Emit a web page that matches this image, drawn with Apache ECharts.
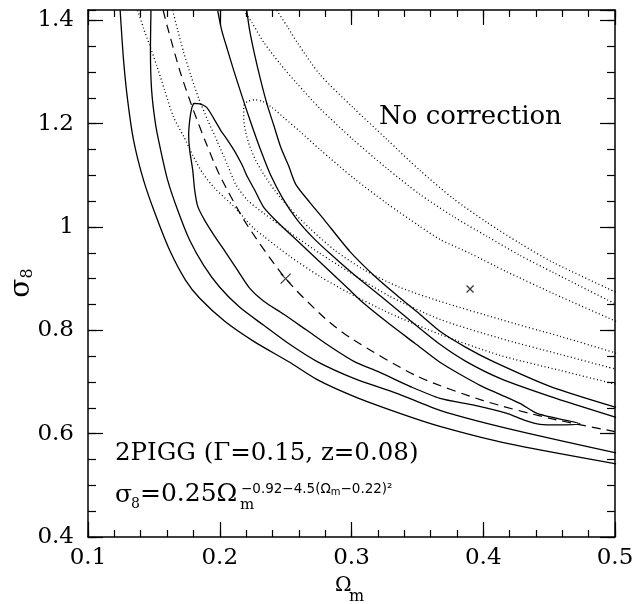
<!DOCTYPE html>
<html>
<head>
<meta charset="utf-8">
<script src="https://cdn.jsdelivr.net/npm/echarts@6/dist/echarts.min.js"></script>
<style>html,body{margin:0;padding:0;background:#fff}#c{width:638px;height:604px}</style>
</head>
<body>
<div id="c"></div>
<script>
// ---- data (Omega_m, sigma_8) ----
var xTicks = [0.1, 0.2, 0.3, 0.4, 0.5];
var yTicks = [0.4, 0.6, 0.8, 1, 1.2, 1.4];

// solid: corrected contours
var solidOuterLow = [[0.1244,1.4194],[0.1270,1.3226],[0.1301,1.2452],[0.1346,1.1678],[0.1422,1.0903],[0.1514,1.0226],[0.1620,0.9549],[0.1741,0.8968],[0.1848,0.8620],[0.2038,0.8175],[0.2258,0.7787],[0.2531,0.7381],[0.2736,0.7052],[0.3018,0.6723],[0.3367,0.6394],[0.3671,0.6142],[0.4180,0.5813],[0.5008,0.5417]];
var solidMidLow = [[0.1478,1.4194],[0.1474,1.3419],[0.1483,1.2645],[0.1514,1.1968],[0.1552,1.1484],[0.1605,1.0903],[0.1681,1.0323],[0.1772,0.9742],[0.1878,0.9258],[0.2000,0.8833],[0.2152,0.8445],[0.2334,0.8097],[0.2531,0.7729],[0.2736,0.7400],[0.3018,0.7071],[0.3344,0.6781],[0.3671,0.6452],[0.4180,0.6104],[0.5008,0.5629]];
var solidMidHigh = [[0.1984,1.4194],[0.2015,1.3807],[0.2060,1.3419],[0.2106,1.3032],[0.2167,1.2548],[0.2235,1.2026],[0.2311,1.1484],[0.2387,1.1000],[0.2478,1.0555],[0.2585,1.0149],[0.2706,0.9800],[0.2843,0.9471],[0.3025,0.9065],[0.3223,0.8658],[0.3443,0.8194],[0.3671,0.7729],[0.3868,0.7400],[0.4127,0.7071],[0.4506,0.6723],[0.5008,0.6317]];
var solidOuterHigh = [[0.2205,1.4194],[0.2227,1.3807],[0.2266,1.3323],[0.2311,1.2839],[0.2357,1.2394],[0.2410,1.1968],[0.2463,1.1542],[0.2524,1.1174],[0.2577,1.0826],[0.2683,1.0478],[0.2790,1.0149],[0.2987,0.9529],[0.3177,0.9046],[0.3344,0.8678],[0.3519,0.8310],[0.3671,0.7981],[0.3868,0.7671],[0.4073,0.7400],[0.4506,0.6917],[0.5008,0.6510]];
var solidInner = [[0.1802,1.2394],[0.1848,1.2384],[0.1901,1.2316],[0.1954,1.2103],[0.2007,1.1871],[0.2060,1.1678],[0.2114,1.1465],[0.2167,1.1213],[0.2212,1.0962],[0.2266,1.0710],[0.2334,1.0381],[0.2455,1.0052],[0.2585,0.9742],[0.2714,0.9433],[0.2843,0.9123],[0.2972,0.8813],[0.3093,0.8523],[0.3291,0.8116],[0.3481,0.7749],[0.3671,0.7381],[0.3823,0.7149],[0.3975,0.6936],[0.4127,0.6762],[0.4278,0.6587],[0.4408,0.6394],[0.4560,0.6297],[0.4734,0.6191],
  [0.4582,0.6171],[0.4430,0.6181],[0.4316,0.6258],[0.4180,0.6394],[0.3937,0.6549],[0.3671,0.6684],[0.3443,0.6917],[0.3215,0.7187],[0.3018,0.7400],[0.2835,0.7691],[0.2661,0.8000],[0.2486,0.8310],[0.2334,0.8562],[0.2228,0.8813],[0.2136,0.9162],[0.2045,0.9510],[0.1962,0.9820],[0.1886,1.0129],[0.1833,1.0400],[0.1810,1.0710],[0.1795,1.1097],[0.1772,1.1484],[0.1764,1.1774],[0.1772,1.2065],[0.1787,1.2297],[0.1802,1.2394]];

// dashed: fitted relation
var fitLine = [[0.157,1.42],[0.16,1.39],[0.17,1.30],[0.18,1.226],[0.19,1.16],[0.20,1.10],[0.22,1.007],[0.25,0.90],[0.28,0.823],[0.30,0.784],[0.35,0.711],[0.40,0.664],[0.45,0.630],[0.50,0.604]];

// dotted: uncorrected contours
var dotOuterLow = [[0.1377,1.4194],[0.1422,1.3845],[0.1468,1.3516],[0.1521,1.3129],[0.1582,1.2645],[0.1650,1.2123],[0.1726,1.1755],[0.1795,1.1387],[0.1871,1.1039],[0.1962,1.0749],[0.2106,1.0400],[0.2258,0.9974],[0.2334,0.9820],[0.2531,0.9433],[0.2759,0.9046],[0.2987,0.8716],[0.3291,0.8329],[0.3671,0.7923],[0.4127,0.7516],[0.4582,0.7226],[0.5008,0.6955]];
var dotMidLow = [[0.1643,1.4194],[0.1681,1.3807],[0.1726,1.3381],[0.1780,1.2936],[0.1840,1.2490],[0.1909,1.2065],[0.1984,1.1639],[0.2060,1.1194],[0.2121,1.0826],[0.2212,1.0516],[0.2334,1.0265],[0.2531,0.9897],[0.2759,0.9491],[0.2987,0.9123],[0.3291,0.8658],[0.3671,0.8213],[0.4127,0.7846],[0.4582,0.7536],[0.5008,0.7246]];
var dotOuterHigh = [[0.2433,1.4194],[0.2516,1.3865],[0.2592,1.3555],[0.2759,1.2955],[0.3010,1.2316],[0.3268,1.1697],[0.3519,1.1097],[0.3770,1.0555],[0.4028,1.0090],[0.4278,0.9684],[0.4529,0.9316],[0.5008,0.8736]];
var dotMidHigh = [[0.2182,1.4194],[0.2243,1.3961],[0.2334,1.3574],[0.2455,1.3168],[0.2585,1.2781],[0.2759,1.2297],[0.3010,1.1697],[0.3268,1.1136],[0.3519,1.0632],[0.3770,1.0207],[0.4028,0.9820],[0.4278,0.9452],[0.4529,0.9123],[0.5008,0.8504]];
var dotInner = [[0.5008,0.8174],[0.4529,0.8716],[0.4172,0.9142],[0.3899,0.9491],[0.3671,0.9761],[0.3519,1.0013],[0.3268,1.0458],[0.3018,1.0942],[0.2759,1.1503],[0.2607,1.1852],[0.2493,1.2103],[0.2395,1.2316],[0.2326,1.2432],[0.2266,1.2461],[0.2212,1.2432],[0.2182,1.2336],
  [0.2182,1.2103],[0.2197,1.1832],[0.2228,1.1561],[0.2273,1.1290],[0.2334,1.1020],[0.2417,1.0710],[0.2531,1.0361],[0.2683,0.9974],[0.2873,0.9549],[0.3101,0.9162],[0.3367,0.8832],[0.3671,0.8562],[0.4127,0.8213],[0.4582,0.7884],[0.5008,0.7561]];

// best-fit markers
var bestCorrected = [[0.25, 0.90]];
var bestRaw = [[0.39, 0.88]];

var chart = echarts.init(document.getElementById('c'));
var FONT = '"DejaVu Serif", "Liberation Serif", serif';
var black = '#000';

function xAx(pos, interval, len, showLine, showLabel) {
  return {
    type: 'value', position: pos, min: 0.1, max: 0.5, interval: interval,
    axisLine: {show: showLine, lineStyle: {color: black, width: 1.5}},
    axisTick: {show: true, inside: true, length: len, lineStyle: {color: black, width: 1.2}},
    axisLabel: {show: showLabel, color: black, fontFamily: FONT, fontSize: 23, margin: 10,
      formatter: function (v) { var r = Math.round(v * 10) / 10; return xTicks.indexOf(r) >= 0 ? String(r) : ''; }},
    splitLine: {show: false}
  };
}
function yAx(pos, interval, len, showLine, showLabel) {
  return {
    type: 'value', position: pos, min: 0.4, max: 1.42, interval: interval,
    axisLine: {show: showLine, lineStyle: {color: black, width: 1.5}},
    axisTick: {show: true, inside: true, length: len, lineStyle: {color: black, width: 1.2}},
    axisLabel: {show: showLabel, color: black, fontFamily: FONT, fontSize: 23, margin: 14, showMaxLabel: false,
      formatter: function (v) { var r = Math.round(v * 10) / 10; return (yTicks.indexOf(r) >= 0 && Math.abs(v - r) < 1e-6) ? String(r) : ''; }},
    splitLine: {show: false}
  };
}

function lineSeries(data, type, width) {
  return {
    type: 'line', data: data, xAxisIndex: 0, yAxisIndex: 0,
    showSymbol: false, symbol: 'none', smooth: 0.25, clip: true, silent: true,
    lineStyle: {color: black, width: width, type: type}
  };
}
var dotType = [1, 2.6];
var crossPath = 'path://M0,0L10,10M10,0L0,10';

chart.setOption({
  animation: false,
  backgroundColor: '#fff',
  grid: {left: 88, top: 10, right: 23, bottom: 67, containLabel: false},
  xAxis: [xAx('bottom', 0.1, 15, true, true), xAx('bottom', 0.02, 7, false, false),
          xAx('top', 0.1, 15, true, false), xAx('top', 0.02, 7, false, false)],
  yAxis: [yAx('left', 0.2, 15, true, true), yAx('left', 0.05, 8, false, false),
          yAx('right', 0.2, 15, true, false), yAx('right', 0.05, 8, false, false)],
  series: [
    lineSeries(solidOuterLow, 'solid', 1.3),
    lineSeries(solidMidLow, 'solid', 1.3),
    lineSeries(solidMidHigh, 'solid', 1.3),
    lineSeries(solidOuterHigh, 'solid', 1.3),
    lineSeries(solidInner, 'solid', 1.3),
    lineSeries(fitLine, [9, 6], 1.2),
    lineSeries(dotOuterLow, dotType, 1.3),
    lineSeries(dotMidLow, dotType, 1.3),
    lineSeries(dotOuterHigh, dotType, 1.3),
    lineSeries(dotMidHigh, dotType, 1.3),
    lineSeries(dotInner, dotType, 1.3),
    {type: 'scatter', data: bestCorrected, symbol: crossPath, symbolSize: 10, silent: true,
     itemStyle: {color: 'none', borderColor: black, borderWidth: 1.2}},
    {type: 'scatter', data: bestRaw, symbol: crossPath, symbolSize: 7, silent: true,
     itemStyle: {color: 'none', borderColor: black, borderWidth: 1.2}}
  ],
  graphic: [
    {type: 'text', x: 379, y: 117, style: {text: 'No correction', font: '26px ' + FONT, fill: black, verticalAlign: 'middle'}},
    {type: 'text', x: 115, y: 454, style: {text: '2PIGG (Γ=0.15, z=0.08)', font: '24.5px ' + FONT, fill: black, verticalAlign: 'middle'}},
    {type: 'text', x: 115, y: 495, style: {text: 'σ', font: '25px ' + FONT, fill: black, verticalAlign: 'middle'}},
    {type: 'text', x: 131, y: 504, style: {text: '8', font: '14px ' + FONT, fill: black, verticalAlign: 'middle'}},
    {type: 'text', x: 140, y: 494, style: {text: '=0.25Ω', font: '25px ' + FONT, fill: black, verticalAlign: 'middle'}},
    {type: 'text', x: 240, y: 505, style: {text: 'm', font: '15px ' + FONT, fill: black, verticalAlign: 'middle'}},
    {type: 'text', x: 241, y: 489, style: {text: '{e|−0.92−4.5(Ω}{s|m}{e|−0.22)²}', fill: black, verticalAlign: 'middle',
      rich: {e: {fontFamily: '"DejaVu Sans", sans-serif', fontSize: 13.5, color: black},
             s: {fontFamily: '"DejaVu Sans", sans-serif', fontSize: 10, color: black, verticalAlign: 'bottom', padding: [6, 0, 0, 0]}}}},
    {type: 'text', x: 335, y: 586, style: {text: 'Ω', font: '20px ' + FONT, fill: black, verticalAlign: 'middle'}},
    {type: 'text', x: 349, y: 597, style: {text: 'm', font: '16px ' + FONT, fill: black, verticalAlign: 'middle'}},
    {type: 'text', x: 22, y: 283, rotation: Math.PI / 2, style: {text: '{a|σ}{b|8}', align: 'center', verticalAlign: 'middle',
      rich: {a: {fontFamily: FONT, fontSize: 28, color: black}, b: {fontFamily: FONT, fontSize: 16, color: black, verticalAlign: 'bottom', padding: [8, 0, 0, 0]}}}}
  ]
});
</script>
</body>
</html>
